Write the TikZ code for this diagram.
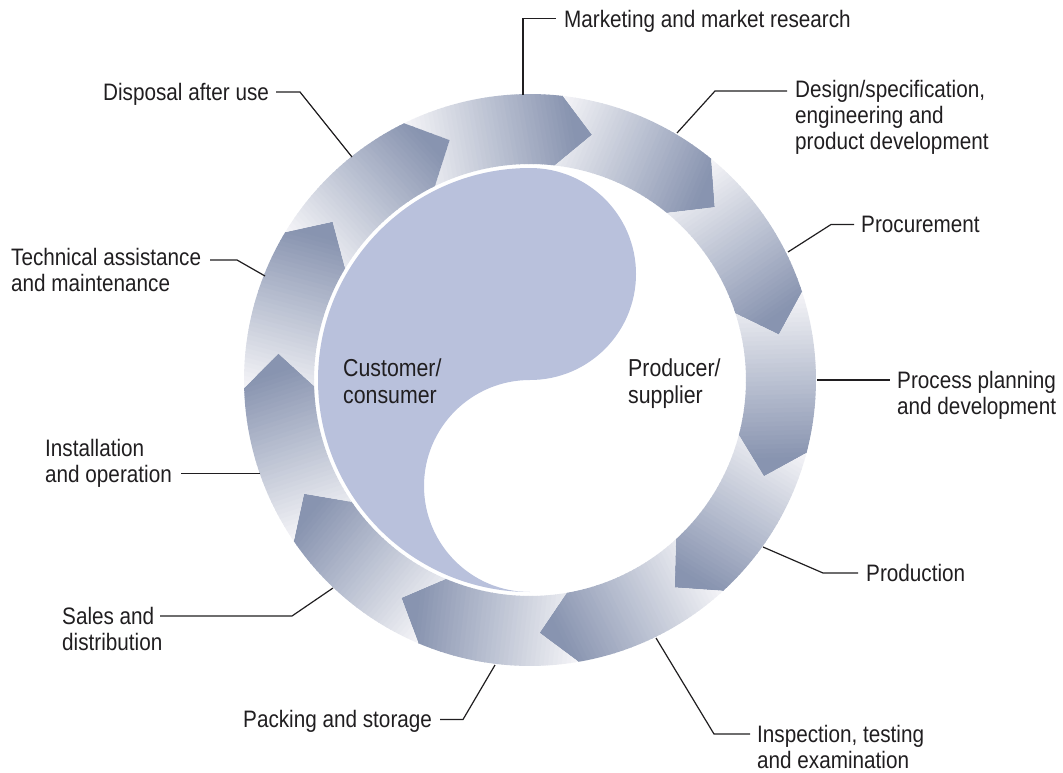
\documentclass[tikz,border=0pt]{standalone}
\usepackage{fontspec}
\setmainfont{Liberation Sans}[FakeStretch=0.87]
\definecolor{ringdark}{RGB}{136,148,176}
\definecolor{ringlight}{RGB}{245,245,248}
\definecolor{yin}{RGB}{185,193,220}
\definecolor{ink}{RGB}{32,30,32}
\newcommand\fl{\rule{0pt}{20pt}}
\begin{document}
\begin{tikzpicture}[x=1pt,y=1pt,
  lbl/.style={anchor=north west, inner sep=0pt, align=left, text=ink, font=\fontsize{23.8}{25.8}\selectfont},
  inlbl/.style={lbl, font=\fontsize{24.5}{27}\selectfont},
  leader/.style={draw=ink, line width=1.2pt, line join=miter}]
\useasboundingbox (0,0) rectangle (1063,-773);
\def\Ro{286}\def\Ri{216}\def\Rm{253}\def\sp{32.727}\def\dl{7.6}
% ring of arrows
\begin{scope}[shift={(530,-380)}]
\foreach \k in {0,...,10}{
  \pgfmathsetmacro\mid{83.4-\sp*\k+\sp/2}
  \pgfmathsetmacro\at{90+\sp/2}
  \pgfmathsetmacro\ah{90-\sp/2}
  \begin{scope}[rotate=\mid-90]
    \clip (\at:\Ro) arc[start angle=\at, end angle=\ah, radius=\Ro] -- (\ah-\dl:\Rm) -- (\ah:\Ri)
          arc[start angle=\ah, end angle=\at, radius=\Ri] -- (\at-\dl:\Rm) -- cycle;
    \foreach \i in {0,...,41}{
      \pgfmathsetmacro\xa{-82+\i*4.5}
      \pgfmathsetmacro\xb{\xa+5.2}
      \pgfmathsetmacro\pc{min(100,max(0,(\xa+2.25+80)/165*100))}
      \fill[ringdark!\pc!ringlight] (\xa,180) -- (\xb,180) -- (\xb,300) -- (\xa,300) -- cycle;
    }
  \end{scope}
}
% yin shape
\fill[yin] (0,212) arc[start angle=90, end angle=270, radius=212]
   arc[start angle=270, end angle=90, radius=106]
   arc[start angle=-90, end angle=90, radius=106] -- cycle;
\end{scope}
% inner labels
\node[inlbl] (cust) at (343,-356) {\fl Customer/\\consumer};
\node[inlbl] (prod) at (628,-356) {\fl Producer/\\supplier};
% outer labels
\node[lbl] (lM) at (564,-7.5) {\fl Marketing and market research};
\node[lbl] (lD) at (795,-77.5) {\fl Design/specification,\\engineering and\\product development};
\node[lbl] (lPr) at (861,-212.5) {\fl Procurement};
\node[lbl] (lPP) at (897,-368.5) {\fl Process planning\\and development};
\node[lbl] (lPd) at (866,-561.5) {\fl Production};
\node[lbl] (lI) at (757,-722.5) {\fl Inspection, testing\\and examination};
\node[lbl] (lPk) at (243,-707.5) {\fl Packing and storage};
\node[lbl] (lS) at (62,-604.5) {\fl Sales and\\distribution};
\node[lbl] (lIn) at (45,-436) {\fl Installation\\and operation};
\node[lbl] (lT) at (11,-245) {\fl Technical assistance\\and maintenance};
\node[lbl] (lDi) at (103,-80) {\fl Disposal after use};
% ring contact points and bends
\coordinate (pM) at (523,-95);   \coordinate (bM) at (523,-18.5);
\coordinate (pD) at (677,-133);  \coordinate (bD) at (715,-91);
\coordinate (pPr) at (788,-252); \coordinate (bPr) at (831,-224.5);
\coordinate (pPP) at (817,-380); \coordinate (ePP) at (890,-380);
\coordinate (pPd) at (763,-547); \coordinate (bPd) at (823,-573);
\coordinate (pI) at (656,-638);  \coordinate (bI) at (714,-734);
\coordinate (pPk) at (495,-665); \coordinate (bPk) at (463,-719.5);
\coordinate (pS) at (333,-588);  \coordinate (bS) at (292,-616); \coordinate (eS) at (160,-616);
\coordinate (pIn) at (260,-473.5); \coordinate (eIn) at (181,-473.5);
\coordinate (pT) at (265,-276);  \coordinate (bT) at (237,-260); \coordinate (eT) at (210,-260);
\coordinate (pDi) at (352,-157); \coordinate (bDi) at (300,-92); \coordinate (eDi) at (276,-92);
% leaders
\draw[leader] (pM) -- (bM) -- ([xshift=-8pt]bM -| lM.west);
\draw[leader] (pD) -- (bD) -- ([xshift=-8pt]bD -| lD.west);
\draw[leader] (pPr) -- (bPr) -- ([xshift=-7pt]bPr -| lPr.west);
\draw[leader] (pPP) -- (ePP);
\draw[leader] (pPd) -- (bPd) -- ([xshift=-8pt]bPd -| lPd.west);
\draw[leader] (pI) -- (bI) -- ([xshift=-7pt]bI -| lI.west);
\draw[leader] (pPk) -- (bPk) -- ([xshift=8pt]bPk -| lPk.east);
\draw[leader] (pS) -- (bS) -- (eS);
\draw[leader] (pIn) -- (eIn);
\draw[leader] (pT) -- (bT) -- (eT);
\draw[leader] (pDi) -- (bDi) -- (eDi);
\end{tikzpicture}
\end{document}
